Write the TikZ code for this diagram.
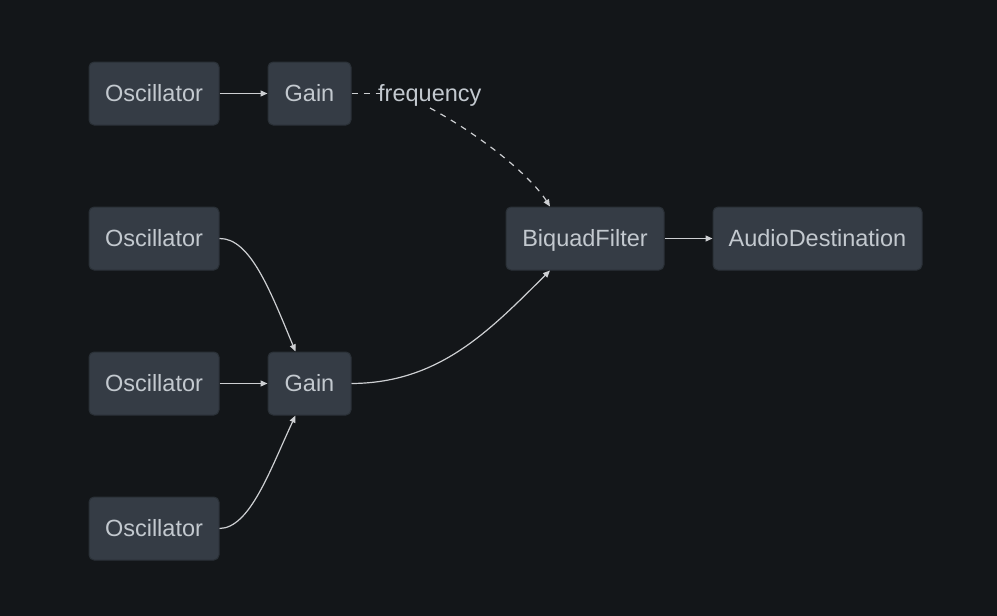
\documentclass[tikz,border=0pt]{standalone}
\usepackage{fontspec}
\setmainfont{Liberation Sans}
\usetikzlibrary{arrows.meta}
\definecolor{bg}{HTML}{131619}
\definecolor{nodefill}{HTML}{353C45}
\definecolor{nodeline}{HTML}{2A3037}
\definecolor{txt}{HTML}{C3C9CF}
\definecolor{edge}{HTML}{CDCFD2}
\tikzset{
  box/.style={draw=nodeline, line width=1pt, fill=nodefill, rounded corners=5pt,
    minimum height=63pt, inner sep=0pt, text=txt, text height=19pt, text depth=3pt,
    font=\fontsize{23.5}{27}\selectfont},
  conn/.style={draw=edge, line width=1.2pt, -{Triangle[length=7pt,width=6pt]}},
  lbl/.style={text=txt, inner sep=0pt, text height=19pt, text depth=3pt,
    font=\fontsize{23.5}{27}\selectfont}
}
\begin{document}
\begin{tikzpicture}[x=1pt,y=-1pt]
\fill[bg] (0,0) rectangle (997,616);
\useasboundingbox (0,0) rectangle (997,616);
\node[box, minimum width=130pt] (o1) at (154,93.5) {Oscillator};
\node[box, minimum width=83pt] (g1) at (309.5,93.5) {Gain};
\node[box, minimum width=130pt] (o2) at (154,238.5) {Oscillator};
\node[box, minimum width=130pt] (o3) at (154,383.5) {Oscillator};
\node[box, minimum width=130pt] (o4) at (154,528.5) {Oscillator};
\node[box, minimum width=83pt] (g2) at (309.5,383.5) {Gain};
\node[box, minimum width=158pt] (bq) at (585,238.5) {BiquadFilter};
\node[box, minimum width=209pt] (ad) at (817.5,238.5) {AudioDestination};
\node[lbl, anchor=west] (fr) at (378,93.5) {frequency};
\coordinate (frb) at (430,108);
\draw[conn] (o1) -- (g1);
\draw[draw=edge, line width=1.2pt, dash pattern=on 6pt off 6pt] (g1.east) -- ([xshift=2pt]fr.west);
\draw[conn, dash pattern=on 6pt off 6pt] (frb) .. controls (480,135) and (530,175) .. ([xshift=-35pt]bq.north);
\draw[conn] (o2.east) .. controls (250,238) and (270,290) .. ([xshift=-14pt]g2.north);
\draw[conn] (o3) -- (g2);
\draw[conn] (o4.east) .. controls (250,528) and (270,470) .. ([xshift=-14pt]g2.south);
\draw[conn] (g2.east) .. controls (440,383) and (490,330) .. ([xshift=-35pt]bq.south);
\draw[conn] (bq) -- (ad);
\end{tikzpicture}
\end{document}
